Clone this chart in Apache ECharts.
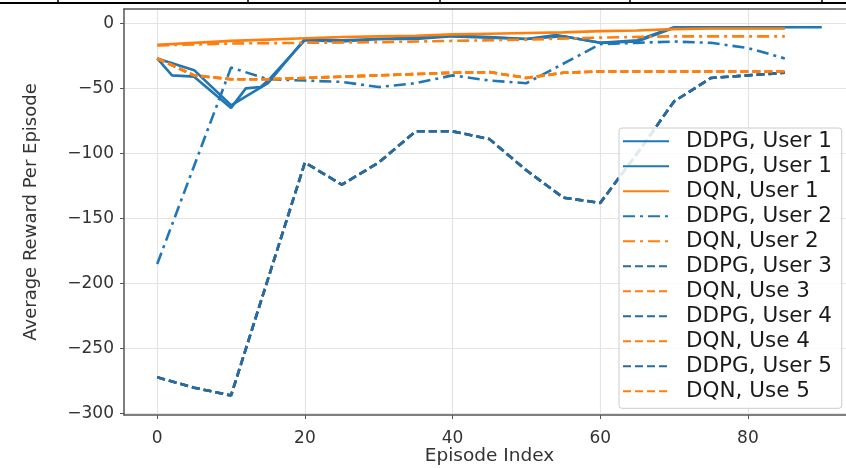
<!DOCTYPE html>
<html>
<head>
<meta charset="utf-8">
<title>Average Reward Per Episode</title>
<script src="https://cdn.jsdelivr.net/npm/echarts@6/dist/echarts.min.js"></script>
<style>
  html, body { margin: 0; padding: 0; background: #fff; }
  #main { width: 846px; height: 468px; }
</style>
</head>
<body>
<div id="main"></div>
<script>
// tick labels
const xTicks = [0, 20, 40, 60, 80];
const yTicks = [-300, -250, -200, -150, -100, -50, 0];

// DDPG, User 1 (two solid blue runs)
const ddpgUser1aX = [0, 2, 5, 10, 12, 14, 15, 20, 25, 30, 35, 40, 45, 50, 54, 60, 65, 70, 75, 80, 85, 90];
const ddpgUser1aY = [-27, -40, -41, -65, -50, -49, -44, -13, -14, -12, -11, -9.5, -10.5, -12, -9, -15, -13, -3, -3, -3, -3, -3];
const ddpgUser1bX = [0, 5, 10, 15, 20, 25, 30, 35, 40, 45, 50, 55, 60, 65, 70, 75, 80, 85];
const ddpgUser1bY = [-27, -36, -63, -46, -12, -13, -12, -12, -10, -11, -12, -10, -15, -14, -3.5, -3.5, -3.5, -3.5];
// DQN, User 1
const dqnUser1X = [0, 5, 10, 15, 20, 25, 30, 35, 40, 45, 50, 55, 60, 65, 70, 75, 80, 85];
const dqnUser1Y = [-16.5, -15, -13.5, -12.5, -11.5, -10.5, -10, -9.5, -8.5, -8, -7.5, -7, -6, -5.5, -4.5, -4, -4, -4];
// DDPG, User 2
const ddpgUser2X = [0, 10, 15, 20, 25, 30, 35, 40, 45, 50, 60, 65, 70, 75, 80, 85];
const ddpgUser2Y = [-185, -34, -43, -44, -45, -49, -46, -40, -44, -46, -16, -15, -14, -15, -19, -27];
// DQN, User 2
const dqnUser2X = [0, 10, 20, 30, 40, 50, 60, 70, 80, 85];
const dqnUser2Y = [-17, -15.5, -15, -14.5, -13.5, -12.5, -11, -10, -10, -10];
// DDPG, User 3..5 (drawn on top of each other)
const ddpgUser3X = [0, 5, 10, 20, 25, 30, 35, 40, 45, 50, 55, 60, 65, 70, 75, 80, 85];
const ddpgUser3Y = [-272, -280, -286, -107, -124, -107, -83, -83, -89, -113, -134, -138, -100, -60, -42, -40, -38];
const ddpgUser4Y = [-272, -280, -286, -107, -124, -107, -83, -83, -89, -113, -134, -138, -100, -60, -42, -40, -38];
const ddpgUser5Y = [-272, -280, -286, -107, -124, -107, -83, -83, -89, -113, -134, -138, -100, -60, -42, -40, -38];
// DQN, Use 3..5
const dqnUser3X = [0, 5, 10, 15, 20, 25, 30, 35, 40, 45, 50, 55, 60, 65, 70, 75, 80, 85];
const dqnUser3Y = [-27, -40, -43, -43, -42, -41, -40, -39, -38, -37.5, -42, -38, -37, -37, -37, -37, -37, -37];
const dqnUser4Y = [-27, -40, -43, -43, -42, -41, -40, -39, -38, -37.5, -42, -38, -37, -37, -37, -37, -37, -37];
const dqnUser5Y = [-27, -40, -43, -43, -42, -41, -40, -39, -38, -37.5, -42, -38, -37, -37, -37, -37, -37, -37];

const BLUE = "#1f77b4";
const DARKBLUE = "#2a6a9c";
const ORANGE = "#ff7f0e";
const SOLID = "solid";
const DASH = [8, 4];
const DASHDOT = [12, 5, 3, 5];

function zip(xs, ys) {
  return xs.map((x, i) => [x, ys[i]]);
}

function makeLine(name, xs, ys, color, dash) {
  return {
    name: name,
    type: "line",
    data: zip(xs, ys),
    symbol: "none",
    smooth: false,
    lineStyle: { color: color, width: 2.6, type: dash },
    itemStyle: { color: color }
  };
}

const seriesList = [
  makeLine("DDPG, User 1", ddpgUser1aX, ddpgUser1aY, BLUE, SOLID),
  // same label twice in the original legend, trailing space keeps it a separate entry
  makeLine("DDPG, User 1 ", ddpgUser1bX, ddpgUser1bY, BLUE, SOLID),
  makeLine("DQN, User 1", dqnUser1X, dqnUser1Y, ORANGE, SOLID),
  makeLine("DDPG, User 2", ddpgUser2X, ddpgUser2Y, BLUE, DASHDOT),
  makeLine("DQN, User 2", dqnUser2X, dqnUser2Y, ORANGE, DASHDOT),
  makeLine("DDPG, User 3", ddpgUser3X, ddpgUser3Y, DARKBLUE, DASH),
  makeLine("DQN, Use 3", dqnUser3X, dqnUser3Y, ORANGE, DASH),
  makeLine("DDPG, User 4", ddpgUser3X, ddpgUser4Y, DARKBLUE, DASH),
  makeLine("DQN, Use 4", dqnUser3X, dqnUser4Y, ORANGE, DASH),
  makeLine("DDPG, User 5", ddpgUser3X, ddpgUser5Y, DARKBLUE, DASH),
  makeLine("DQN, Use 5", dqnUser3X, dqnUser5Y, ORANGE, DASH)
];

const minus = v => String(v).replace("-", "\u2212");
const tickFont = { fontFamily: "DejaVu Sans", fontSize: 17, color: "#333" };

const myChart = echarts.init(document.getElementById("main"), null, { renderer: "canvas" });
myChart.setOption({
  animation: false,
  backgroundColor: "#fff",
  grid: { left: 124, top: 9, width: 731, height: 406, containLabel: false, outerBoundsMode: "none" },
  legend: {
    orient: "vertical",
    left: 619,
    top: 128,
    data: seriesList.map(s => s.name),
    itemWidth: 46,
    itemHeight: 14,
    itemGap: 3.0,
    padding: [2.3, 3, 6, 3],
    backgroundColor: "rgba(255,255,255,0.85)",
    borderColor: "#cccccc",
    borderWidth: 1,
    borderRadius: 3,
    // hide the marker dot, keep only the line sample
    itemStyle: { opacity: 0 },
    textStyle: {
      fontFamily: "DejaVu Sans",
      fontSize: 21.5,
      color: "#1a1a1a",
      padding: [0, 0, 0, 12]
    }
  },
  xAxis: [
    {
      type: "value",
      min: -4.5,
      max: 94.5,
      name: "Episode Index",
      nameLocation: "middle",
      nameGap: 32,
      nameMoveOverlap: false,
      nameTextStyle: { fontFamily: "DejaVu Sans", fontSize: 18.5, color: "#333" },
      axisLine: { show: true, onZero: false, lineStyle: { color: "#555", width: 1.5 } },
      axisTick: { show: true, customValues: xTicks, length: 4, lineStyle: { color: "#555" } },
      axisLabel: Object.assign({ customValues: xTicks, margin: 15, formatter: minus }, tickFont),
      splitLine: { show: true, lineStyle: { color: "#e4e4e4", width: 1.2 } }
    },
    {
      // top frame line
      type: "value",
      position: "top",
      min: -4.5,
      max: 94.5,
      axisLine: { show: true, onZero: false, lineStyle: { color: "#555", width: 1.5 } },
      axisTick: { show: false },
      axisLabel: { show: false },
      splitLine: { show: false }
    }
  ],
  yAxis: {
    type: "value",
    min: -301,
    max: 11,
    name: "Average Reward Per Episode",
    nameLocation: "middle",
    nameGap: 84,
    nameMoveOverlap: false,
    nameTextStyle: { fontFamily: "DejaVu Sans", fontSize: 18, color: "#333" },
    axisLine: { show: true, onZero: false, lineStyle: { color: "#555", width: 1.5 } },
    axisTick: { show: true, customValues: yTicks, length: 4, lineStyle: { color: "#555" } },
    axisLabel: Object.assign({ customValues: yTicks, margin: 10, formatter: minus }, tickFont),
    splitLine: { show: true, lineStyle: { color: "#e4e4e4", width: 1.2 } }
  },
  graphic: [
    // table border above the figure
    { type: "line", shape: { x1: 0, y1: 3, x2: 846, y2: 3 }, style: { stroke: "#000", lineWidth: 2 } },
    { type: "line", shape: { x1: 58, y1: 0, x2: 58, y2: 3 }, style: { stroke: "#000", lineWidth: 1.5 } },
    { type: "line", shape: { x1: 248, y1: 0, x2: 248, y2: 3 }, style: { stroke: "#000", lineWidth: 1.5 } },
    { type: "line", shape: { x1: 440, y1: 0, x2: 440, y2: 3 }, style: { stroke: "#000", lineWidth: 1.5 } },
    { type: "line", shape: { x1: 630, y1: 0, x2: 630, y2: 3 }, style: { stroke: "#000", lineWidth: 1.5 } },
    { type: "line", shape: { x1: 822, y1: 0, x2: 822, y2: 3 }, style: { stroke: "#000", lineWidth: 1.5 } }
  ],
  series: seriesList
});
</script>
</body>
</html>
